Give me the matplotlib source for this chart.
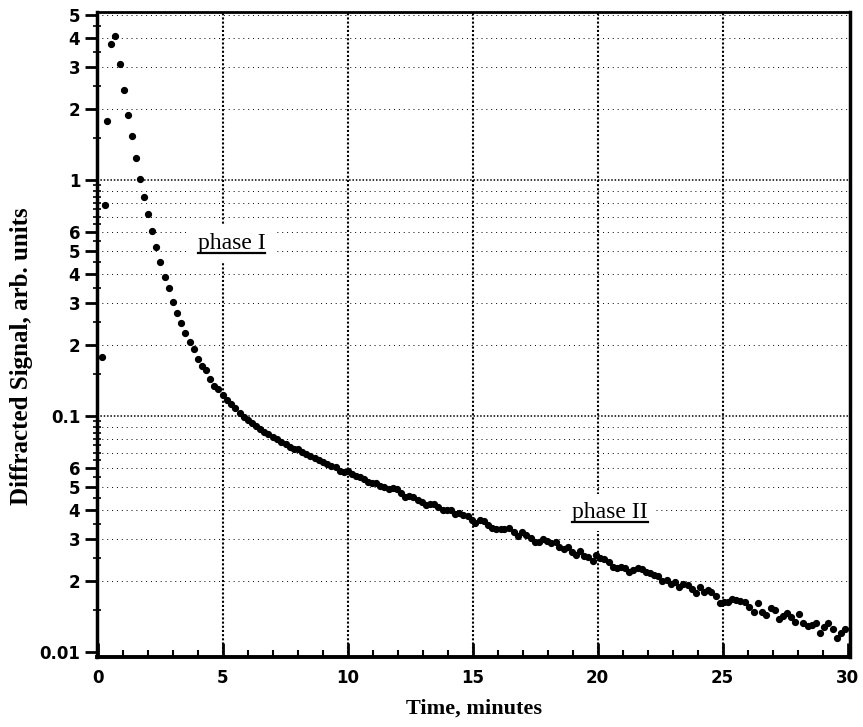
import numpy as np
import matplotlib
matplotlib.use("Agg")
import matplotlib.pyplot as plt
from matplotlib.lines import Line2D
from matplotlib.ticker import FixedLocator, NullFormatter, FixedFormatter

# Diffracted signal decay measurement
time_min = [0.18, 0.31, 0.38, 0.54, 0.71, 0.88, 1.06, 1.21, 1.38, 1.54, 1.71, 1.85,
            2.02, 2.18, 2.35, 2.51, 2.68, 2.84, 3.01, 3.17, 3.35, 3.51, 3.68, 3.84,
            4.00, 4.18, 4.35, 4.50, 4.67, 4.82, 5.01, 5.17, 5.33, 5.51, 5.68, 5.84,
            6.01, 6.18, 6.33, 6.49, 6.65, 6.82, 7.00, 7.16, 7.33, 7.52, 7.69, 7.85,
            8.01, 8.18, 8.35, 8.51, 8.68, 8.85, 9.01, 9.19, 9.35, 9.52, 9.68, 9.84,
            10.00, 10.16, 10.32, 10.49, 10.65, 10.81, 10.98, 11.14, 11.31, 11.47, 11.64, 11.81,
            11.98, 12.14, 12.31, 12.47, 12.63, 12.80, 12.97, 13.13, 13.29, 13.47, 13.63, 13.80,
            13.98, 14.14, 14.30, 14.47, 14.63, 14.80, 14.96, 15.11, 15.28, 15.44, 15.61, 15.78,
            15.94, 16.12, 16.26, 16.45, 16.65, 16.81, 16.99, 17.15, 17.32, 17.48, 17.65, 17.81,
            17.98, 18.14, 18.32, 18.47, 18.65, 18.80, 18.98, 19.14, 19.31, 19.47, 19.61, 19.80,
            19.95, 20.11, 20.27, 20.44, 20.61, 20.77, 20.94, 21.10, 21.27, 21.43, 21.61, 21.76,
            21.94, 22.10, 22.27, 22.43, 22.59, 22.76, 22.94, 23.10, 23.26, 23.43, 23.60, 23.76,
            23.92, 24.08, 24.25, 24.42, 24.55, 24.75, 24.89, 25.06, 25.22, 25.38, 25.55, 25.71,
            25.88, 26.06, 26.24, 26.41, 26.58, 26.74, 26.92, 27.08, 27.25, 27.41, 27.58, 27.74,
            27.90, 28.07, 28.23, 28.41, 28.58, 28.74, 28.90, 29.07, 29.23, 29.40, 29.56, 29.73,
            29.90]

signal = [0.178, 0.786, 1.78, 3.78, 4.09, 3.10, 2.41, 1.88, 1.53, 1.24, 1.01, 0.85,
          0.716, 0.608, 0.520, 0.448, 0.389, 0.348, 0.305, 0.274, 0.247, 0.224, 0.206, 0.192,
          0.175, 0.163, 0.156, 0.143, 0.134, 0.130, 0.123, 0.117, 0.112, 0.108, 0.103, 0.0993,
          0.0961, 0.0931, 0.0907, 0.0884, 0.0858, 0.0839, 0.0817, 0.0799, 0.0778, 0.0759, 0.0741, 0.0725,
          0.0725, 0.0704, 0.0689, 0.0677, 0.0666, 0.0651, 0.0638, 0.0628, 0.0616, 0.0606, 0.0587, 0.0581,
          0.0585, 0.0568, 0.0557, 0.0553, 0.0542, 0.0527, 0.0519, 0.0522, 0.0505, 0.0499, 0.0489, 0.0497,
          0.0489, 0.0473, 0.0455, 0.0459, 0.0453, 0.0441, 0.0434, 0.0420, 0.0425, 0.0424, 0.0410, 0.0400,
          0.0400, 0.0400, 0.0383, 0.0387, 0.0381, 0.0377, 0.0362, 0.0353, 0.0362, 0.0359, 0.0345, 0.0336,
          0.0331, 0.0331, 0.0332, 0.0334, 0.0323, 0.0310, 0.0323, 0.0313, 0.0303, 0.0292, 0.0293, 0.0300,
          0.0296, 0.0289, 0.0293, 0.0279, 0.0272, 0.0279, 0.0266, 0.0258, 0.0269, 0.0255, 0.0253, 0.0244,
          0.0258, 0.0249, 0.0247, 0.0241, 0.0229, 0.0226, 0.0230, 0.0226, 0.0219, 0.0223, 0.0226, 0.0224,
          0.0219, 0.0217, 0.0212, 0.0210, 0.0200, 0.0202, 0.0195, 0.0197, 0.0188, 0.0194, 0.0192, 0.0184,
          0.0178, 0.0189, 0.0180, 0.0183, 0.0180, 0.0172, 0.0161, 0.0163, 0.0163, 0.0167, 0.0166, 0.0165,
          0.0163, 0.0155, 0.0147, 0.0161, 0.0148, 0.0144, 0.0153, 0.0151, 0.0138, 0.0142, 0.0146, 0.0141,
          0.0134, 0.0145, 0.0132, 0.0129, 0.0130, 0.0133, 0.0120, 0.0128, 0.0133, 0.0125, 0.0115, 0.0120,
          0.0125]

x_major = [0, 5, 10, 15, 20, 25, 30]
x_labels = ["0", "5", "10", "15", "20", "25", "30"]
y_labelled = [0.01, 0.02, 0.03, 0.04, 0.05, 0.06,
              0.1, 0.2, 0.3, 0.4, 0.5, 0.6,
              1, 2, 3, 4, 5]
y_labels = ["0.01", "2", "3", "4", "5", "6",
            "0.1", "2", "3", "4", "5", "6",
            "1", "2", "3", "4", "5"]

fig = plt.figure(figsize=(8.63, 7.27), dpi=100)
ax = fig.add_axes([0.1124, 0.0963, 0.8726, 0.8872])

ax.set_yscale("log")
ax.set_xlim(-0.03, 30.1)
ax.set_ylim(0.00952, 5.15)

# dotted grid: light at every minor value, heavier at decades and every 5 minutes
minor_vals = [m * d for d in (0.01, 0.1, 1) for m in range(2, 10) if m * d <= 5.1]
for v in minor_vals:
    ax.axhline(v, color="black", lw=0.7, ls=(0, (1, 4)), zorder=1)
for v in (0.1, 1):
    ax.axhline(v, color="black", lw=1.1, ls=(0, (1, 1.2)), zorder=1)
for v in (5, 10, 15, 20, 25):
    ax.axvline(v, color="black", lw=1.5, ls=(0, (1, 1)), zorder=1)

ax.plot(time_min, signal, "o", color="black", ms=4.2, mec="black", zorder=3)

# axis ticks
ax.xaxis.set_major_locator(FixedLocator(x_major))
ax.xaxis.set_major_formatter(FixedFormatter(x_labels))
ax.xaxis.set_minor_locator(FixedLocator(range(0, 31)))
ax.tick_params(axis="x", which="major", direction="in", length=10, width=2, pad=9)
ax.tick_params(axis="x", which="minor", direction="in", length=5, width=1.5)

ax.yaxis.set_major_locator(FixedLocator(y_labelled))
ax.yaxis.set_major_formatter(FixedFormatter(y_labels))
y_minor = [m * d for d in (0.01, 0.1, 1) for m in np.arange(1, 10, 0.5) if m * d <= 5.1]
ax.yaxis.set_minor_locator(FixedLocator(y_minor))
ax.yaxis.set_minor_formatter(NullFormatter())
ax.tick_params(axis="y", which="major", direction="out", length=9, width=2, pad=3)
ax.tick_params(axis="y", which="minor", direction="inout", length=6, width=1.2)

for lab in ax.get_xticklabels() + ax.get_yticklabels():
    lab.set_fontfamily("DejaVu Sans")
    lab.set_fontweight("bold")
    lab.set_fontsize(12)

for side, lw in (("left", 2.5), ("bottom", 2.8), ("right", 2.5), ("top", 2.0)):
    ax.spines[side].set_linewidth(lw)

ax.set_xlabel("Time, minutes", labelpad=8, family="Liberation Serif",
              weight="bold", size=16)
ax.set_ylabel("Diffracted Signal, arb. units", labelpad=6, family="Liberation Serif",
              weight="bold", size=18)
ax.yaxis.set_label_coords(-0.085, 0.467)

# underlined phase annotations
box = dict(facecolor="white", edgecolor="none", pad=6)
phase_texts = [
    ax.text(5.35, 0.54, "phase I", family="Liberation Serif", fontsize=17,
            ha="center", va="center", bbox=box, zorder=2),
    ax.text(20.5, 0.039, "phase II", family="Liberation Serif", fontsize=17,
            ha="center", va="center", bbox=box, zorder=2),
]
fig.canvas.draw()
renderer = fig.canvas.get_renderer()
inv = fig.transFigure.inverted()
for t in phase_texts:
    bb = t.get_window_extent(renderer)
    (x0, y0), (x1, _) = inv.transform([(bb.x0, bb.y0 + 1), (bb.x1, bb.y0 + 1)])
    fig.add_artist(Line2D([x0, x1], [y0, y0], color="black", lw=1.6,
                          transform=fig.transFigure, zorder=4))

fig.savefig("out.png", dpi=100)
